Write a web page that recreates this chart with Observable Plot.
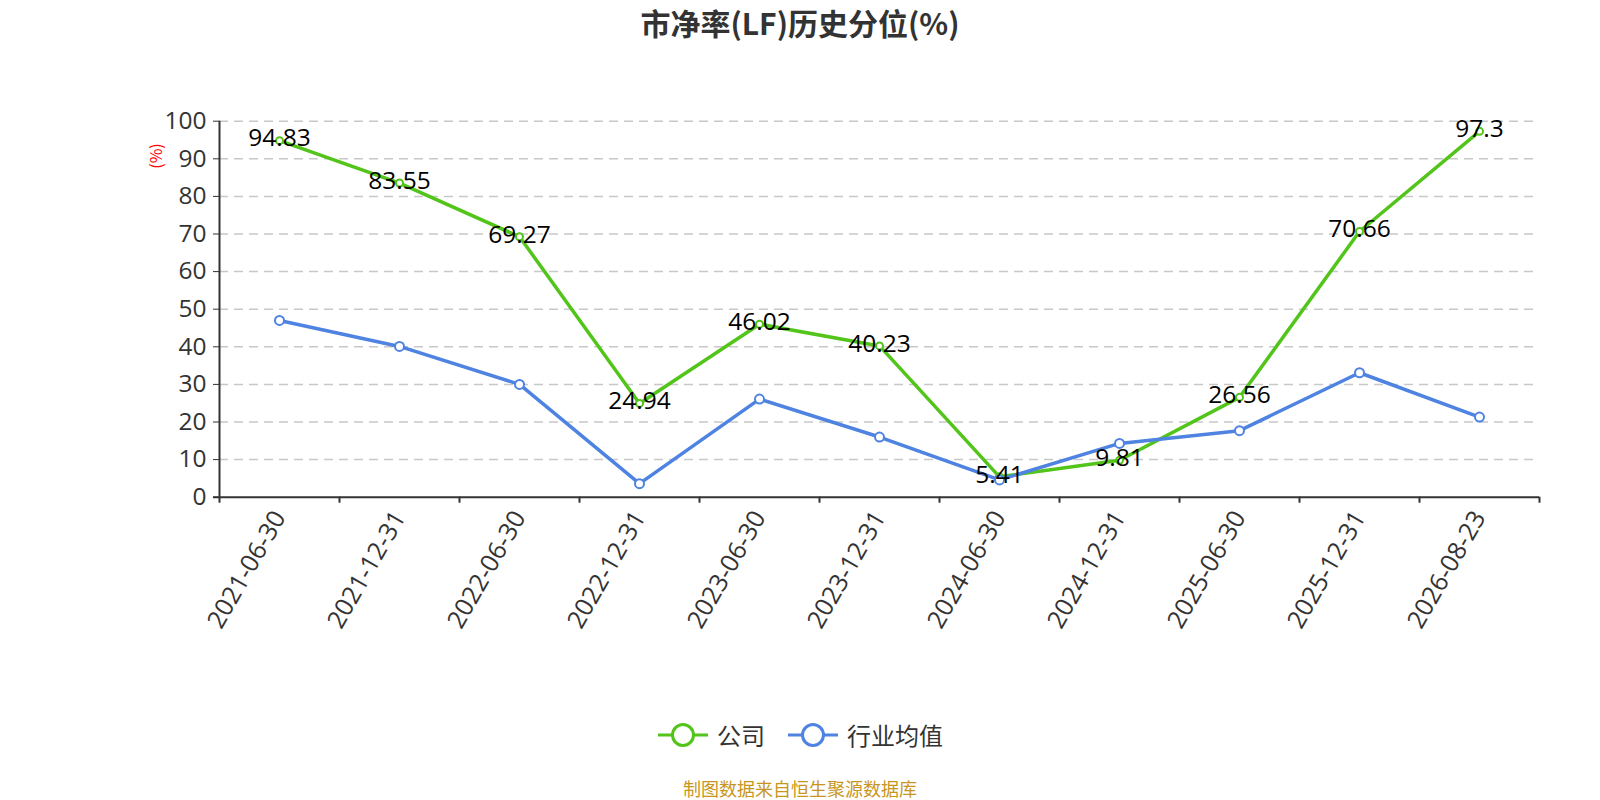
<!DOCTYPE html>
<html>
<head>
<meta charset="utf-8">
<script src="https://cdn.jsdelivr.net/npm/d3@7"></script>
<script src="https://cdn.jsdelivr.net/npm/@observablehq/plot@0.6"></script>
<style>
  html, body { margin: 0; padding: 0; background: #fff; }
  #root { position: relative; width: 1600px; height: 800px; overflow: hidden; font-family: "Open Sans", "Noto Sans CJK SC", sans-serif; }
  #title { position: absolute; top: 2px; left: 0; width: 1600px; text-align: center; font-family: "Noto Sans CJK SC", sans-serif; font-weight: bold; font-size: 30px; color: #333; line-height: 40px; }
  #chart { position: absolute; top: 0; left: 0; }
  #ylabel { position: absolute; left: 155px; top: 156px; transform: translate(-50%, -50%) rotate(-90deg); color: #ff0000; font-size: 16px; font-family: "Noto Sans CJK SC", sans-serif; white-space: nowrap; }
  #legend { position: absolute; top: 717px; left: 0; width: 1600px; display: flex; justify-content: center; align-items: center; font-family: "Noto Sans CJK SC", sans-serif; font-size: 24px; color: #333; }
  .item { display: flex; align-items: center; margin: 0 11px; }
  .item svg { margin-right: 8px; }
  #caption { position: absolute; top: 775px; left: 0; width: 1600px; text-align: center; font-family: "Noto Sans CJK SC", sans-serif; font-size: 18px; color: #c8961e; }
</style>
</head>
<body>
<div id="root">
  <div id="title">市净率(LF)历史分位(%)</div>
  <div id="chart"></div>
  <div id="ylabel">(%)</div>
  <div id="legend"></div>
  <div id="caption">制图数据来自恒生聚源数据库</div>
</div>
<script>
const dates = ["2021-06-30","2021-12-31","2022-06-30","2022-12-31","2023-06-30","2023-12-31","2024-06-30","2024-12-31","2025-06-30","2025-12-31","2026-08-23"];
const company = [94.83, 83.55, 69.27, 24.94, 46.02, 40.23, 5.41, 9.81, 26.56, 70.66, 97.3];
const industry = [47.0, 40.1, 30.0, 3.6, 26.1, 16.0, 4.6, 14.3, 17.7, 33.1, 21.3];
const yTicks = [0, 10, 20, 30, 40, 50, 60, 70, 80, 90, 100];
const seriesNames = ["公司", "行业均值"];
const colors = ["#52c41a", "#4e83e1"];

const rows = dates.map((d, i) => ({date: d, company: company[i], industry: industry[i]}));

const W = 1600, H = 650, ML = 219, MR = 61, MT = 120.7, MB = 153.3;
const step = (W - ML - MR) / dates.length;
const fontAll = "'Open Sans', 'Noto Sans CJK SC', sans-serif";

const chart = Plot.plot({
  width: W, height: H,
  marginLeft: ML, marginRight: MR, marginTop: MT, marginBottom: MB,
  x: {type: "point", domain: dates, padding: 0.5},
  y: {domain: [0, 100]},
  style: {fontFamily: fontAll, background: "transparent", overflow: "visible"},
  marks: [
    Plot.gridY(yTicks.filter(v => v > 0), {stroke: "#c8c8c8", strokeOpacity: 1, strokeWidth: 1.5, strokeDasharray: "9,6"}),
    Plot.axisY({ticks: yTicks, tickSize: 6, tickPadding: 7, fontSize: 24.5, color: "#333", label: null, tickFormat: d => String(d)}),
    Plot.axisX({tickSize: 0, tickPadding: 16, tickRotate: -60, textAnchor: "end", lineAnchor: "middle", fontSize: 25, color: "#333", label: null}),
    Plot.ruleX([dates[0]], {y1: 0, y2: 100, dx: -step / 2, stroke: "#333", strokeWidth: 2}),
    Plot.ruleY([0], {stroke: "#333", strokeWidth: 2, insetLeft: -6}),
    Plot.ruleX(dates, {y1: 0, y2: -1.6, dx: -step / 2, stroke: "#333", strokeWidth: 2}),
    Plot.ruleX([dates[dates.length - 1]], {y1: 0, y2: -1.6, dx: step / 2, stroke: "#333", strokeWidth: 2}),
    Plot.line(rows, {x: "date", y: "company", stroke: colors[0], strokeWidth: 3.5}),
    Plot.dot(rows, {x: "date", y: "company", r: 3.5, fill: "#fff", stroke: colors[0], strokeWidth: 2}),
    Plot.line(rows, {x: "date", y: "industry", stroke: colors[1], strokeWidth: 3.5}),
    Plot.dot(rows, {x: "date", y: "industry", r: 4.5, fill: "#fff", stroke: colors[1], strokeWidth: 2}),
    Plot.text(rows, {x: "date", y: "company", text: d => String(d.company), fontSize: 24.5, fill: "#000", dy: -2, lineAnchor: "middle"})
  ]
});
document.getElementById("chart").appendChild(chart);

const legend = document.getElementById("legend");
seriesNames.forEach((name, i) => {
  const item = document.createElement("div");
  item.className = "item";
  item.innerHTML = `<svg width="52" height="26"><line x1="1" y1="13" x2="51" y2="13" stroke="${colors[i]}" stroke-width="3"/><circle cx="26" cy="13" r="10.5" fill="#fff" stroke="${colors[i]}" stroke-width="3"/></svg><span>${name}</span>`;
  legend.appendChild(item);
});
</script>
</body>
</html>
